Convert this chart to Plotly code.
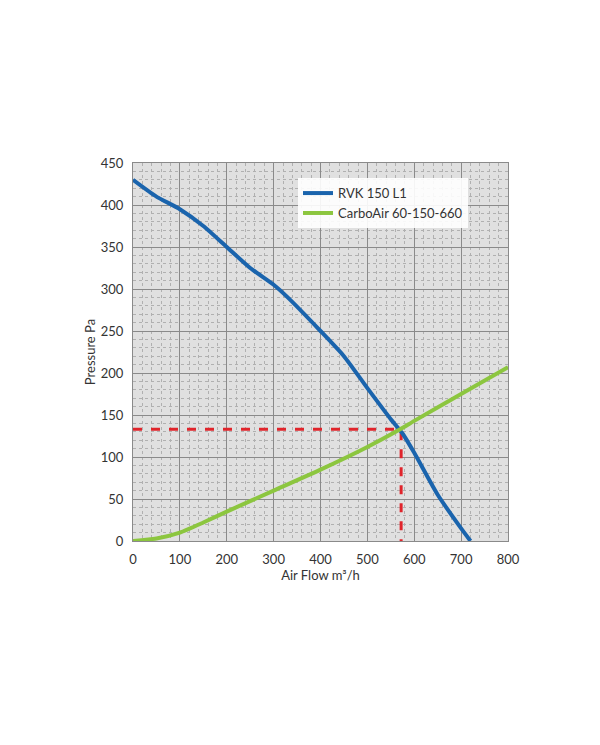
import plotly.graph_objects as go

rvk_x = [0, 50, 100, 150, 200, 250, 300, 330, 400, 450, 500, 550, 575, 600, 650, 700, 720]
rvk_y = [430, 410, 395, 375, 350, 325, 305, 290, 250, 220, 182, 145, 128, 105, 55, 15, 0]
carbo_x = [0, 50, 100, 150, 200, 300, 400, 500, 570, 600, 700, 800]
carbo_y = [0, 3, 10, 22, 35, 60, 85, 112, 133, 143, 175, 207]
op_x = [0, 572, 572]
op_y = [133, 133, 0]

fig = go.Figure()
fig.add_trace(go.Scatter(x=op_x, y=op_y, mode="lines", showlegend=False,
                         line=dict(color="#e0242b", width=3, dash="dash")))
fig.add_trace(go.Scatter(x=rvk_x, y=rvk_y, mode="lines", name="RVK 150 L1",
                         line=dict(color="#1a64ad", width=4, shape="spline", smoothing=0.6)))
fig.add_trace(go.Scatter(x=carbo_x, y=carbo_y, mode="lines", name="CarboAir 60-150-660",
                         line=dict(color="#8cc63f", width=4, shape="spline", smoothing=0.6)))

minor = dict(showgrid=True, gridcolor="#b0b0b0", gridwidth=0.6, griddash="dot")
fig.update_xaxes(range=[0, 800], dtick=100, showgrid=True, gridcolor="#8a8a8a", gridwidth=1.2,
                 minor=dict(dtick=20, **minor), zeroline=False,
                 showline=True, linecolor="#8a8a8a", mirror=True,
                 title=dict(text="Air Flow m³/h", standoff=2, font=dict(size=13)),
                 ticks="", ticklabelstandoff=6, tickfont=dict(size=13, color="#333"))
fig.update_yaxes(range=[0, 450], dtick=50, showgrid=True, gridcolor="#8a8a8a", gridwidth=1.2,
                 minor=dict(dtick=10, **minor), zeroline=False,
                 showline=True, linecolor="#8a8a8a", mirror=True,
                 title=dict(text="Pressure Pa", standoff=2, font=dict(size=13)),
                 ticks="", ticklabelstandoff=6, tickfont=dict(size=13, color="#333"))
fig.update_layout(
    width=600, height=745, paper_bgcolor="white", plot_bgcolor="#e0e0e0",
    margin=dict(l=125, r=100, t=155, b=212),
    font=dict(family="Lato, Open Sans, sans-serif", size=13, color="#333"),
    legend=dict(x=0.44, y=0.96, xanchor="left", yanchor="top", bgcolor="rgba(255,255,255,0.9)",
                font=dict(size=13, color="#333"), tracegroupgap=0),
)
fig.write_html("out.html")
